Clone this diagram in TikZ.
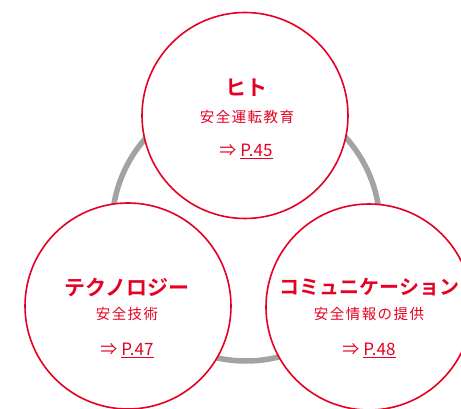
\documentclass[tikz,border=0pt]{standalone}
\usepackage{fontspec}
\newfontfamily\jp{Noto Sans CJK JP}[BoldFont={Noto Sans CJK JP Bold}]
\newfontfamily\jpsub{Noto Sans CJK JP}[LetterSpace=10]
\definecolor{brand}{HTML}{E60023}
\definecolor{ring}{HTML}{A3A3A3}
\tikzset{
  bubble/.style={circle, draw=brand, line width=1.6pt, fill=white, minimum size=206pt, inner sep=0pt},
  title/.style={text=brand, font=\jp\bfseries\fontsize{21}{23}\selectfont, inner sep=0pt},
  sub/.style={text=brand, font=\jpsub\fontsize{14.5}{16}\selectfont, inner sep=0pt},
  link/.style={text=brand, font=\jp\fontsize{17}{19}\selectfont, inner sep=0pt},
}
\begin{document}
\begin{tikzpicture}[x=1pt,y=-1pt]
\useasboundingbox (0,0) rectangle (461,409);
\clip (0,0) rectangle (461,409);
\coordinate (rc) at (246,227);
\draw[ring, line width=5.5pt] (rc) circle[radius=134];
\node[bubble] (hito) at (245,115.5) {};
\node[bubble] (tech) at (128,306) {};
\node[bubble] (comm) at (369,307) {};
\node[title] (t1) at (246,88) {ヒト};
\node[sub] (s1) at (247,117) {安全運転教育};
\node[link] (l1) at (246,151) {⇒ \underline{P.45}};
\node[title] (t2) at (127,287) {テクノロジー};
\node[sub] (s2) at (127,314) {安全技術};
\node[link] (l2) at (127,350) {⇒ \underline{P.47}};
\node[title, font=\jp\bfseries\fontsize{20}{22}\selectfont] (t3) at (369.5,287) {コミュニケーション};
\node[sub] (s3) at (369,314) {安全情報の提供};
\node[link] (l3) at (369,350) {⇒ \underline{P.48}};
\end{tikzpicture}
\end{document}
